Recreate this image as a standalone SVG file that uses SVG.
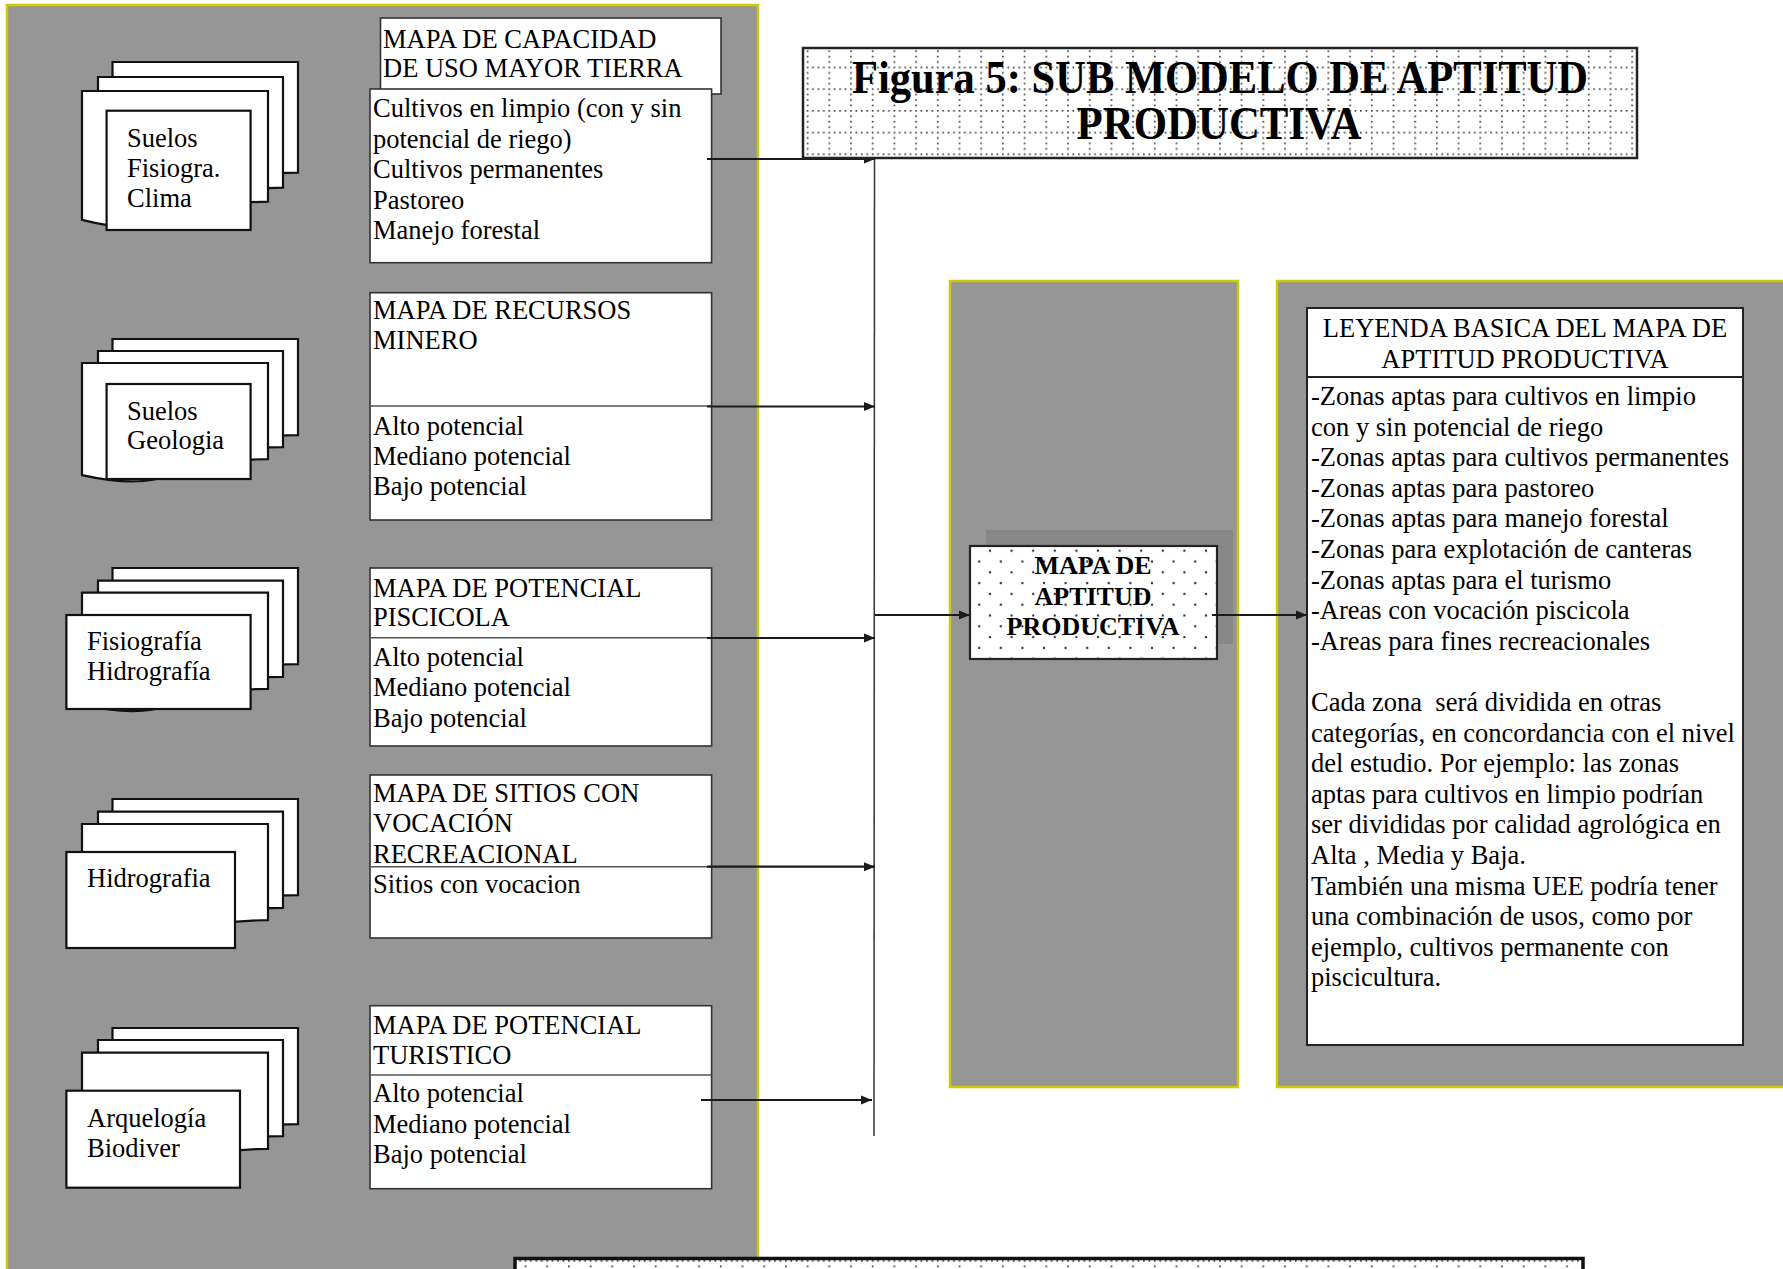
<svg xmlns="http://www.w3.org/2000/svg" width="1783" height="1269" viewBox="0 0 1783 1269">
  <style>
    .panel { fill: #969696; stroke: #cccc00; stroke-width: 2.5; }
    .box { fill: #ffffff; stroke: #333333; stroke-width: 1.6; }
    .div { stroke: #555555; stroke-width: 1.6; fill: none; }
    .sheet { fill: #ffffff; stroke: #111111; stroke-width: 2.2; stroke-linejoin: miter; }
    .front { fill: #ffffff; stroke: #111111; stroke-width: 2.2; }
    .t { font-family: "Liberation Serif", "Times New Roman", serif; font-size: 26.5px; fill: #000000; }
    .tb { font-family: "Liberation Serif", "Times New Roman", serif; font-size: 26px; font-weight: bold; fill: #000000; }
    .title { font-family: "Liberation Serif", "Times New Roman", serif; font-size: 46px; font-weight: bold; fill: #000000; }
    .mid { text-anchor: middle; }
    .conn { stroke: #1a1a1a; stroke-width: 2.2; fill: none; }
    .trunk { stroke: #333333; stroke-width: 1.5; fill: none; }
  </style>
  <defs>
    <marker id="arrow" markerUnits="userSpaceOnUse" markerWidth="12" markerHeight="10" refX="11" refY="5" orient="auto">
      <path d="M0,0.5 L11,5 L0,9.5 Z" fill="#1a1a1a"/>
    </marker>
    <!-- dotted grid fill for the title band and the bottom strip -->
    <pattern id="grid" patternUnits="userSpaceOnUse" x="806.7" y="131.7" width="21.7" height="21.7">
      <rect x="0" y="0" width="1.7" height="1.7" fill="#444"/>
      <rect x="5.4" y="0" width="1.7" height="1.7" fill="#444"/>
      <rect x="10.85" y="0" width="1.7" height="1.7" fill="#444"/>
      <rect x="16.3" y="0" width="1.7" height="1.7" fill="#444"/>
      <rect x="0" y="5.4" width="1.7" height="1.7" fill="#444"/>
      <rect x="0" y="10.85" width="1.7" height="1.7" fill="#444"/>
      <rect x="0" y="16.3" width="1.7" height="1.7" fill="#444"/>
    </pattern>
    <!-- staggered dot fill for the central map box -->
    <pattern id="dots" patternUnits="userSpaceOnUse" x="990" y="550.7" width="21.6" height="21.6">
      <circle cx="0" cy="0" r="1.2" fill="#333"/>
      <circle cx="21.6" cy="0" r="1.2" fill="#333"/>
      <circle cx="0" cy="21.6" r="1.2" fill="#333"/>
      <circle cx="21.6" cy="21.6" r="1.2" fill="#333"/>
      <circle cx="10.8" cy="10.8" r="1.2" fill="#333"/>
    </pattern>
  </defs>

  <rect width="1783" height="1269" fill="#ffffff"/>

  <!-- background panels -->
  <g id="panels">
    <rect class="panel" x="7" y="5" width="751" height="1280"/>
    <rect class="panel" x="950" y="281" width="288" height="806"/>
    <rect class="panel" x="1277" y="281" width="520" height="806"/>
  </g>

  <!-- source layers: stacked sheets -->
  <g id="src-suelos-fisiogra-clima">
    <path class="sheet" d="M112.5,62 H298 V172.7 C205.25,172.7 205.25,214.8 112.5,190.9 Z"/>
    <path class="sheet" d="M98,77 H283 V187.7 C190.5,187.7 190.5,229.8 98,205.9 Z"/>
    <path class="sheet" d="M82,91 H268 V201.7 C175,201.7 175,243.8 82,219.9 Z"/>
    <rect class="front" x="106.6" y="110.7" width="144" height="119.3"/>
    <text class="t" x="127" y="147">Suelos</text>
    <text class="t" x="127" y="177">Fisiogra.</text>
    <text class="t" x="127" y="207">Clima</text>
  </g>

  <g id="src-suelos-geologia">
    <path class="sheet" d="M112.5,339 H298 V435.2 C205.25,435.2 205.25,471.8 112.5,451.1 Z"/>
    <path class="sheet" d="M98,351 H283 V447.2 C190.5,447.2 190.5,483.8 98,463.1 Z"/>
    <path class="sheet" d="M82,363 H268 V459.2 C175,459.2 175,495.8 82,475.1 Z"/>
    <rect class="front" x="106.6" y="384" width="144" height="95"/>
    <text class="t" x="127" y="420">Suelos</text>
    <text class="t" x="127" y="449">Geologia</text>
  </g>

  <g id="src-fisiografia-hidrografia">
    <path class="sheet" d="M112.5,568 H298 V664.2 C205.25,664.2 205.25,700.8 112.5,680.1 Z"/>
    <path class="sheet" d="M98,580.7 H283 V676.9 C190.5,676.9 190.5,713.5 98,692.8 Z"/>
    <path class="sheet" d="M82,592.7 H268 V688.9 C175,688.9 175,725.5 82,704.8 Z"/>
    <rect class="front" x="66.4" y="615" width="184.2" height="94"/>
    <text class="t" x="87" y="650">Fisiografía</text>
    <text class="t" x="87" y="680">Hidrografía</text>
  </g>

  <g id="src-hidrografia">
    <path class="sheet" d="M112.5,799 H298 V895.2 C205.25,895.2 205.25,931.8 112.5,911.1 Z"/>
    <path class="sheet" d="M98,811.7 H283 V907.9 C190.5,907.9 190.5,944.5 98,923.8 Z"/>
    <path class="sheet" d="M82,824 H268 V920.2 C175,920.2 175,956.8 82,936.1 Z"/>
    <rect class="front" x="66.4" y="852" width="168.6" height="96"/>
    <text class="t" x="87" y="887">Hidrografia</text>
  </g>

  <g id="src-arquelogia-biodiver">
    <path class="sheet" d="M112.5,1028 H298 V1124.2 C205.25,1124.2 205.25,1160.8 112.5,1140.1 Z"/>
    <path class="sheet" d="M98,1040 H283 V1136.2 C190.5,1136.2 190.5,1172.8 98,1152.1 Z"/>
    <path class="sheet" d="M82,1052.7 H268 V1148.9 C175,1148.9 175,1185.5 82,1164.8 Z"/>
    <rect class="front" x="66.4" y="1090.7" width="173.6" height="97"/>
    <text class="t" x="87" y="1127">Arquelogía</text>
    <text class="t" x="87" y="1157">Biodiver</text>
  </g>

  <!-- thematic maps -->
  <g id="map-capacidad-uso">
    <rect class="box" x="380.5" y="18" width="340.5" height="76"/>
    <text class="t" x="383" y="48">MAPA DE CAPACIDAD</text>
    <text class="t" x="383" y="77">DE USO MAYOR TIERRA</text>
    <rect class="box" x="370" y="89" width="341.6" height="173.7"/>
    <text class="t" x="373" y="117">Cultivos en limpio (con y sin</text>
    <text class="t" x="373" y="147.5">potencial de riego)</text>
    <text class="t" x="373" y="178">Cultivos permanentes</text>
    <text class="t" x="373" y="208.5">Pastoreo</text>
    <text class="t" x="373" y="239">Manejo forestal</text>
  </g>

  <g id="map-recursos-minero">
    <rect class="box" x="370" y="292.7" width="341.6" height="227.3"/>
    <line class="div" x1="370" y1="406" x2="711.6" y2="406"/>
    <text class="t" x="373" y="319">MAPA DE RECURSOS</text>
    <text class="t" x="373" y="349">MINERO</text>
    <text class="t" x="373" y="435">Alto potencial</text>
    <text class="t" x="373" y="465">Mediano potencial</text>
    <text class="t" x="373" y="495">Bajo potencial</text>
  </g>

  <g id="map-potencial-piscicola">
    <rect class="box" x="370" y="568" width="341.6" height="178"/>
    <line class="div" x1="370" y1="637.7" x2="711.6" y2="637.7"/>
    <text class="t" x="373" y="597">MAPA DE POTENCIAL</text>
    <text class="t" x="373" y="626">PISCICOLA</text>
    <text class="t" x="373" y="665.5">Alto potencial</text>
    <text class="t" x="373" y="696">Mediano potencial</text>
    <text class="t" x="373" y="726.5">Bajo potencial</text>
  </g>

  <g id="map-sitios-recreacional">
    <rect class="box" x="370" y="775" width="341.6" height="163"/>
    <line class="div" x1="370" y1="866.7" x2="711.6" y2="866.7"/>
    <text class="t" x="373" y="802">MAPA DE SITIOS CON</text>
    <text class="t" x="373" y="832">VOCACIÓN</text>
    <text class="t" x="373" y="862.5">RECREACIONAL</text>
    <text class="t" x="373" y="893">Sitios con vocacion</text>
  </g>

  <g id="map-potencial-turistico">
    <rect class="box" x="370" y="1005.7" width="341.6" height="183"/>
    <line class="div" x1="370" y1="1075" x2="711.6" y2="1075"/>
    <text class="t" x="373" y="1034">MAPA DE POTENCIAL</text>
    <text class="t" x="373" y="1064">TURISTICO</text>
    <text class="t" x="373" y="1102">Alto potencial</text>
    <text class="t" x="373" y="1132.5">Mediano potencial</text>
    <text class="t" x="373" y="1163">Bajo potencial</text>
  </g>

  <!-- central product map -->
  <g id="map-aptitud-productiva">
    <rect x="986" y="530" width="247" height="114" fill="#878787"/>
    <rect x="970" y="546" width="247" height="113" fill="#ffffff"/>
    <rect x="970" y="546" width="247" height="113" fill="url(#dots)" stroke="#222222" stroke-width="2.2"/>
    <text class="tb mid" x="1093" y="574">MAPA DE</text>
    <text class="tb mid" x="1093" y="604.5">APTITUD</text>
    <text class="tb mid" x="1093" y="635">PRODUCTIVA</text>
  </g>

  <!-- connectors -->
  <g id="connectors">
    <line class="trunk" x1="874.5" y1="159" x2="874" y2="1136"/>
    <line class="conn" x1="707" y1="159" x2="875" y2="159" marker-end="url(#arrow)"/>
    <line class="conn" x1="707" y1="406.5" x2="875" y2="406.5" marker-end="url(#arrow)"/>
    <line class="conn" x1="707" y1="638" x2="875" y2="638" marker-end="url(#arrow)"/>
    <line class="conn" x1="707" y1="866.7" x2="875" y2="866.7" marker-end="url(#arrow)"/>
    <line class="conn" x1="701" y1="1100" x2="872" y2="1100" marker-end="url(#arrow)"/>
    <line class="conn" x1="875" y1="615" x2="970" y2="615" marker-end="url(#arrow)"/>
    <line class="conn" x1="1212" y1="615" x2="1307" y2="615" marker-end="url(#arrow)"/>
  </g>

  <!-- title band -->
  <g id="title">
    <rect x="803" y="48" width="834" height="110" fill="#ffffff"/>
    <rect x="803" y="48" width="834" height="110" fill="url(#grid)" stroke="#222222" stroke-width="2.5"/>
    <text class="title mid" x="1220" y="92.7" textLength="736" lengthAdjust="spacingAndGlyphs">Figura 5: SUB MODELO DE APTITUD</text>
    <text class="title mid" x="1219" y="139" textLength="285" lengthAdjust="spacingAndGlyphs">PRODUCTIVA</text>
  </g>

  <!-- legend -->
  <g id="legend">
    <rect x="1307" y="308" width="436" height="737" fill="#ffffff" stroke="#222222" stroke-width="2"/>
    <line x1="1307" y1="377" x2="1743" y2="377" stroke="#222222" stroke-width="2"/>
    <text class="t mid" x="1525" y="337">LEYENDA BASICA DEL MAPA DE</text>
    <text class="t mid" x="1525" y="367.5">APTITUD PRODUCTIVA</text>
    <text class="t" x="1311" y="405">-Zonas aptas para cultivos en limpio</text>
    <text class="t" x="1311" y="435.6">con y sin potencial de riego</text>
    <text class="t" x="1311" y="466.2">-Zonas aptas para cultivos permanentes</text>
    <text class="t" x="1311" y="496.8">-Zonas aptas para pastoreo</text>
    <text class="t" x="1311" y="527.4">-Zonas aptas para manejo forestal</text>
    <text class="t" x="1311" y="558">-Zonas para explotación de canteras</text>
    <text class="t" x="1311" y="588.6">-Zonas aptas para el turismo</text>
    <text class="t" x="1311" y="619.2">-Areas con vocación piscicola</text>
    <text class="t" x="1311" y="649.8">-Areas para fines recreacionales</text>
    <text class="t" x="1311" y="711" xml:space="preserve">Cada zona  será dividida en otras</text>
    <text class="t" x="1311" y="741.6">categorías, en concordancia con el nivel</text>
    <text class="t" x="1311" y="772.2">del estudio. Por ejemplo: las zonas</text>
    <text class="t" x="1311" y="802.8">aptas para cultivos en limpio podrían</text>
    <text class="t" x="1311" y="833.4">ser divididas por calidad agrológica en</text>
    <text class="t" x="1311" y="864">Alta , Media y Baja.</text>
    <text class="t" x="1311" y="894.6">También una misma UEE podría tener</text>
    <text class="t" x="1311" y="925.2">una combinación de usos, como por</text>
    <text class="t" x="1311" y="955.8">ejemplo, cultivos permanente con</text>
    <text class="t" x="1311" y="986.4">piscicultura.</text>
  </g>

  <!-- bottom strip -->
  <g id="bottom-strip">
    <rect x="515" y="1258.5" width="1068" height="20" fill="#ffffff"/>
    <rect x="515" y="1258.5" width="1068" height="20" fill="url(#grid)" stroke="#111111" stroke-width="3.5"/>
  </g>
</svg>
